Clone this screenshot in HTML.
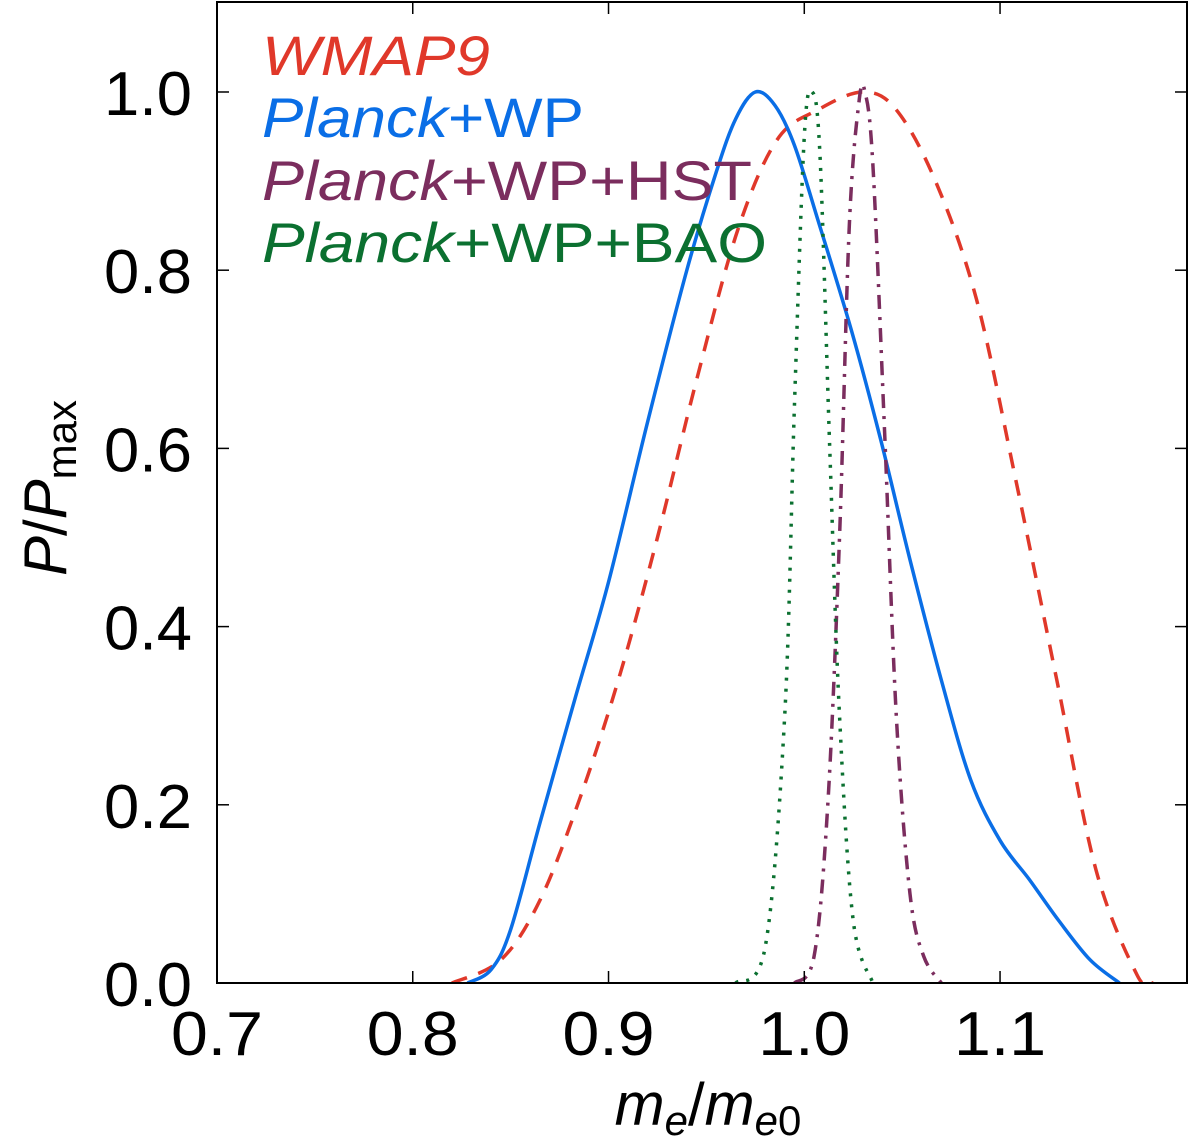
<!DOCTYPE html>
<html><head><meta charset="utf-8"><style>
html,body{margin:0;padding:0;background:#fff;}
svg{display:block;font-family:"Liberation Sans","DejaVu Sans",sans-serif;}
</style></head><body>
<svg id="chart" width="1200" height="1147" viewBox="0 0 1200 1147"></svg>
<script>
const xTicks=[0.7,0.8,0.9,1.0,1.1];
const xTickLabels=["0.7","0.8","0.9","1.0","1.1"];
const yTicks=[0,0.2,0.4,0.6,0.8,1.0];
const yTickLabels=["0.0","0.2","0.4","0.6","0.8","1.0"];
const wmapX=[0.82,0.845,0.865,0.885,0.905,0.925,0.945,0.966,0.986,1.007,1.03,1.047,1.067,1.088,1.108,1.129,1.149,1.17,1.178];
const wmapY=[0,0.026,0.093,0.205,0.34,0.5,0.677,0.845,0.946,0.98,1.0,0.98,0.9,0.767,0.565,0.34,0.127,0.009,0];
const planckX=[0.828,0.84,0.85,0.865,0.883,0.9,0.92,0.94,0.955,0.965,0.975,0.985,0.995,1.007,1.024,1.039,1.054,1.07,1.085,1.1,1.115,1.13,1.146,1.161];
const planckY=[0,0.015,0.06,0.18,0.32,0.45,0.63,0.8,0.91,0.97,1.0,0.985,0.94,0.856,0.733,0.61,0.475,0.34,0.228,0.16,0.116,0.07,0.026,0.0];
const hstX=[0.995,1.005,1.012,1.018,1.023,1.028,1.031,1.035,1.041,1.047,1.054,1.061,1.07];
const hstY=[0,0.03,0.2,0.5,0.85,0.99,1.0,0.92,0.62,0.3,0.1,0.03,0];
const baoX=[0.965,0.98,0.99,0.995,1.0,1.004,1.008,1.013,1.018,1.025,1.035];
const baoY=[0,0.04,0.3,0.65,0.95,1.0,0.93,0.6,0.3,0.07,0];

const L=217,R=1187,T=2,B=983;
const xMin=0.7,xMax=1.1955,yMin=0,yMax=1.101;
const sx=v=>L+(v-xMin)/(xMax-xMin)*(R-L);
const sy=v=>B-(v-yMin)/(yMax-yMin)*(B-T);
const NS="http://www.w3.org/2000/svg";
const svg=document.getElementById('chart');
function mk(tag,attrs,parent){const e=document.createElementNS(NS,tag);for(const k in attrs)e.setAttribute(k,attrs[k]);(parent||svg).appendChild(e);return e;}
function pathFrom(xs,ys){
  const p=xs.map((x,i)=>[sx(x),sy(ys[i])]);
  let d=`M${p[0][0]},${p[0][1]}`;
  for(let i=0;i<p.length-1;i++){
    const p0=p[i-1]||p[i],p1=p[i],p2=p[i+1],p3=p[i+2]||p2;
    const c1=[p1[0]+(p2[0]-p0[0])/6,p1[1]+(p2[1]-p0[1])/6];
    const c2=[p2[0]-(p3[0]-p1[0])/6,p2[1]-(p3[1]-p1[1])/6];
    d+=` C${c1[0]},${c1[1]} ${c2[0]},${c2[1]} ${p2[0]},${p2[1]}`;
  }
  return d;
}
const clip=mk('clipPath',{id:'pc'});mk('rect',{x:L,y:T,width:R-L,height:B-T},clip);
const curves=[
 [wmapX,wmapY,'#e0382a','16,12','wmap9-curve'],
 [planckX,planckY,'#0a6ee6','none','planck-wp-curve'],
 [hstX,hstY,'#7b2d5e','14,8,3,8','planck-wp-hst-curve'],
 [baoX,baoY,'#0b7030','3,8','planck-wp-bao-curve']];
curves.forEach(c=>{
 const e=mk('path',{d:pathFrom(c[0],c[1]),fill:'none',stroke:c[2],'stroke-width':3.5,'stroke-dasharray':c[3],'clip-path':'url(#pc)'});
 
 
});
const frame=mk('rect',{x:L,y:T,width:R-L,height:B-T,fill:'none',stroke:'#000','stroke-width':2});


xTicks.forEach((v,i)=>{
 const x=sx(v);
 mk('line',{x1:x,y1:B,x2:x,y2:B-12,stroke:'#000','stroke-width':1.5});
 mk('line',{x1:x,y1:T,x2:x,y2:T+12,stroke:'#000','stroke-width':1.5});
 const t=mk('text',{x:x,y:1055,'font-size':62,'text-anchor':'middle',fill:'#000',textLength:92,lengthAdjust:'spacingAndGlyphs'});t.textContent=xTickLabels[i];
 
 
});
yTicks.forEach((v,i)=>{
 const y=sy(v);
 mk('line',{x1:L,y1:y,x2:L+12,y2:y,stroke:'#000','stroke-width':1.5});
 mk('line',{x1:R,y1:y,x2:R-12,y2:y,stroke:'#000','stroke-width':1.5});
 const t=mk('text',{x:192,y:y+23,'font-size':62,'text-anchor':'end',fill:'#000',textLength:88,lengthAdjust:'spacingAndGlyphs'});t.textContent=yTickLabels[i];
 
 
});
const xl=mk('text',{x:708,y:1125,'font-size':60,'text-anchor':'middle',fill:'#000'});
xl.innerHTML='<tspan font-style="italic">m</tspan><tspan font-style="italic" font-size="42" dy="10">e</tspan><tspan dy="-10">/</tspan><tspan font-style="italic">m</tspan><tspan font-style="italic" font-size="42" dy="10">e</tspan><tspan font-size="42">0</tspan>';


const yl=mk('text',{x:0,y:0,'font-size':60,'text-anchor':'middle',fill:'#000',transform:'translate(66,488) rotate(-90)'});
yl.innerHTML='<tspan font-style="italic">P</tspan><tspan>/</tspan><tspan font-style="italic">P</tspan><tspan font-size="42" dy="10">max</tspan>';


const leg=[['WMAP9','','#e0382a',75,228],['Planck','+WP','#0a6ee6',137,322],['Planck','+WP+HST','#7b2d5e',200,490],['Planck','+WP+BAO','#0b7030',262,505]];
leg.forEach(l=>{
 const t=mk('text',{x:262,y:l[3],'font-size':56,fill:l[2],textLength:l[4],lengthAdjust:'spacingAndGlyphs'});
 t.innerHTML='<tspan font-style="italic">'+l[0]+'</tspan><tspan>'+l[1]+'</tspan>';
 
 
});
</script>
</body></html>
